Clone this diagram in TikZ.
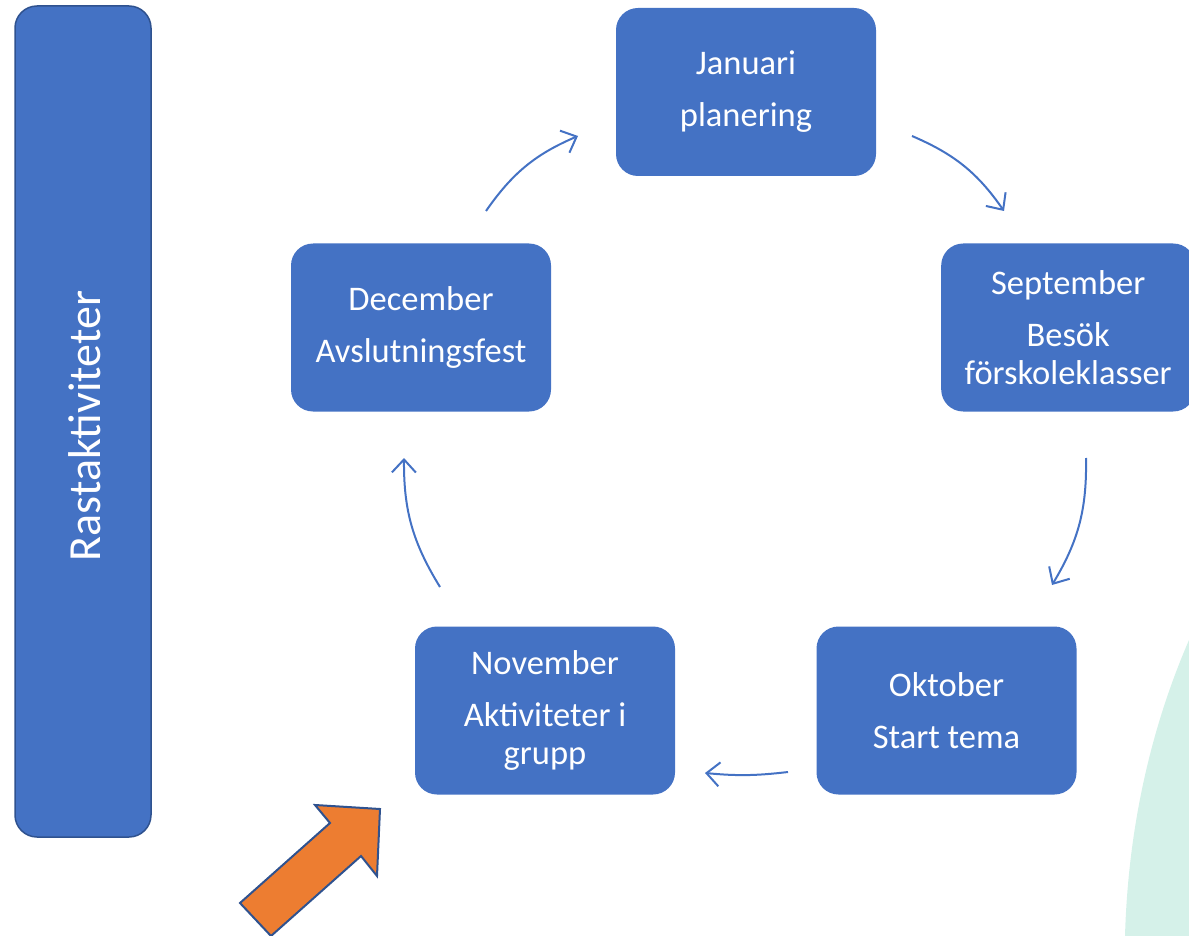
\documentclass[tikz,border=0pt]{standalone}
\usepackage{fontspec}
\setmainfont{Carlito}
\usetikzlibrary{arrows.meta}
\definecolor{boxblue}{HTML}{4472C4}
\definecolor{edgeblue}{HTML}{2F528F}
\definecolor{orangefill}{HTML}{ED7D31}
\definecolor{mint}{HTML}{D5F1E9}
\begin{document}
\begin{tikzpicture}[x=1pt,y=-1pt,
  monthbox/.style={fill=boxblue, draw=none, rounded corners=22pt, minimum width=260pt, minimum height=168pt,
    text=white, align=center, font=\fontsize{34.5}{38}\selectfont, inner sep=0pt},
  cyclearrow/.style={draw=boxblue, line width=2pt, bend left=16,
    -{Straight Barb[length=13pt,width=24pt,line width=2pt]}}
]
\useasboundingbox (0,0) rectangle (1189,936);
\begin{scope}
\clip (0,0) rectangle (1189,936);
% mint background shape
\fill[mint] (1189,640) .. controls (1150,730) and (1128,830) .. (1125,936) -- (1189,936) -- cycle;

% left bar
\node[fill=boxblue, draw=edgeblue, line width=1.5pt, rounded corners=22pt, minimum width=136pt, minimum height=831pt, inner sep=0pt] (bar) at (83,421.5) {};
\node[rotate=90, text=white, font=\fontsize{46}{50}\selectfont] (bartext) at (85,426) {Rastaktiviteter};

% month boxes
\node[monthbox] (jan) at (746,92) {Januari\\[14pt]planering};
\node[monthbox, minimum width=254pt, anchor=west] (sep) at (941,327.5) {September\\[14pt]Besök\\förskoleklasser};
\node[monthbox] (okt) at (946.5,710.5) {Oktober\\[14pt]Start tema};
\node[monthbox] (nov) at (545,710.5) {November\\[14pt]Aktiviteter i\\grupp};
\node[monthbox] (dec) at (421,327.5) {December\\[14pt]Avslutningsfest};

% arrow end points
\coordinate (a1s) at (912,136);  \coordinate (a1e) at (1004,211);
\coordinate (a2s) at (1086,458); \coordinate (a2e) at (1052,585);
\coordinate (a3s) at (788,772);  \coordinate (a3e) at (705,773);
\coordinate (a4s) at (440,587);  \coordinate (a4e) at (404,458);
\coordinate (a5s) at (486,211);  \coordinate (a5e) at (578,136);

\draw[cyclearrow] (a1s) to (a1e);
\draw[cyclearrow] (a2s) to (a2e);
\draw[cyclearrow, bend left=6] (a3s) to (a3e);
\draw[cyclearrow] (a4s) to (a4e);
\draw[cyclearrow] (a5s) to (a5e);

% orange block arrow
\draw[fill=orangefill, draw=edgeblue, line width=2pt, line join=miter]
  (240,903) -- (330,823) -- (315,805) -- (380,809) -- (377,876) -- (361,856) -- (271,936) -- cycle;
\end{scope}
\end{tikzpicture}
\end{document}
